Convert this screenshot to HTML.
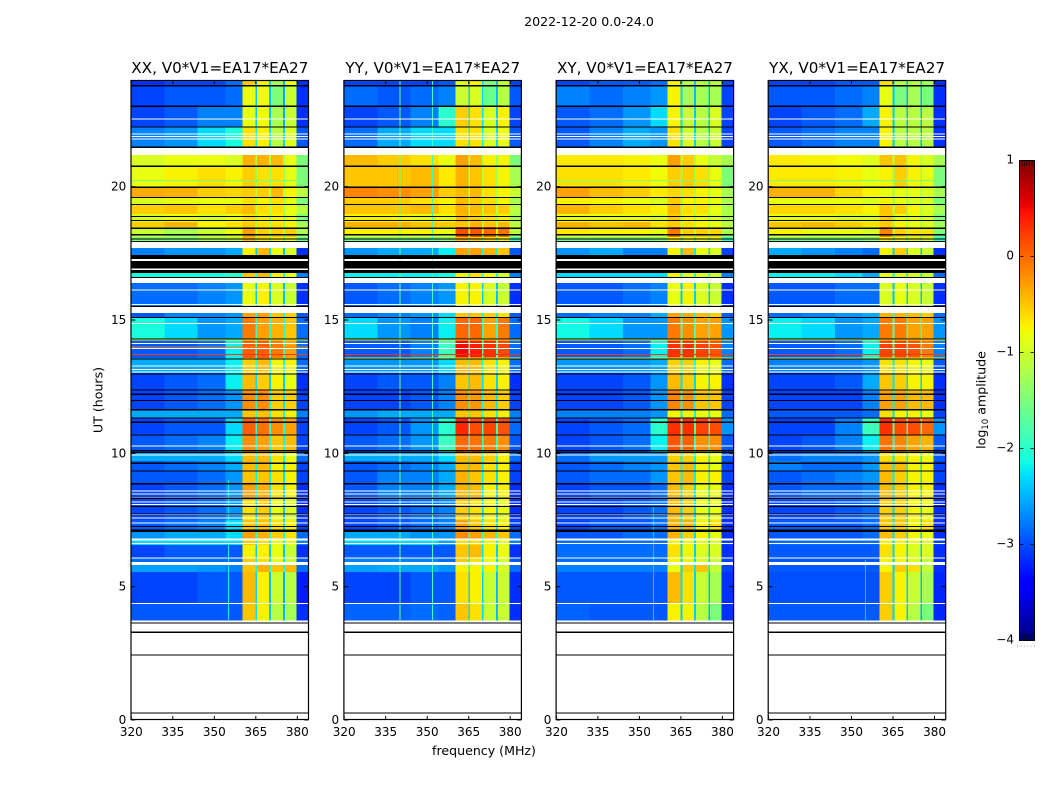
<!DOCTYPE html>
<html lang="en">
<head>
<meta charset="utf-8">
<title>2022-12-20 0.0-24.0 dynamic spectra</title>
<style>
html,body{margin:0;padding:0;background:#fff;width:1050px;height:800px;overflow:hidden}
svg{display:block}
text{font-family:"DejaVu Sans","Liberation Sans",sans-serif;fill:#000}
</style>
</head>
<body>
<svg id="figure" xmlns="http://www.w3.org/2000/svg" width="1050" height="800" viewBox="0 0 1050 800">
  <text x="589" y="26" font-size="12.6" text-anchor="middle">2022-12-20 0.0-24.0</text>
  <text x="484" y="755" font-size="12.6" text-anchor="middle">frequency (MHz)</text>
  <text x="0" y="0" font-size="12.6" text-anchor="middle" transform="translate(102.5,400) rotate(-90)">UT (hours)</text>
  <text x="0" y="0" font-size="12.6" text-anchor="middle" transform="translate(985.5,400) rotate(-90)">log<tspan font-size="8.6" dy="2.5">10</tspan><tspan dy="-2.5"> amplitude</tspan></text>
  <g id="panels"></g>
  <g id="colorbar"></g>
</svg>
<script>
// ---- data ----
const panelTitles = ["XX, V0*V1=EA17*EA27","YY, V0*V1=EA17*EA27","XY, V0*V1=EA17*EA27","YX, V0*V1=EA17*EA27"];
const xTickLabels = [320,335,350,365,380];
const yTickLabels = [0,5,10,15,20];
const colorTickLabels = [-4,-3,-2,-1,0,1];
// frequency zones (MHz) for each heatmap column; gaps between the four bands are separate
const zoneStarts = [320,332,344,354,360.2,365.5,370.4,375.5,379.7];
const zoneEnds   = [332,344,354,360.2,364.9,369.8,374.9,379.7,384];
const bandGapStarts = [364.9,369.8,374.9];
const bandGapEnds   = [365.5,370.4,375.5];
// UT spans (hours) of each time row
const rowTops    = [24,23.81,23.03,22.24,21.19,20.78,19.99,19.61,19.31,18.98,18.68,18.49,18.11,17.7,16.84,16.39,15.26,15.11,14.29,13.58,13.01,12.38,11.63,11.33,10.69,10.05,9.71,9.34,8.85,8.25,7.5,7.09,6.75,6.56,6.08,5.81,5.55,4.35];
const rowBottoms = [23.81,23.03,22.24,21.49,20.78,19.99,19.61,19.31,18.98,18.68,18.49,18.11,17.96,17.44,16.61,15.53,15.11,14.29,13.58,13.01,12.38,11.63,11.33,10.69,10.05,9.71,9.34,8.85,8.25,7.5,7.09,6.75,6.56,6.08,5.81,5.55,4.35,3.75];
// log10 amplitude per time row, one value per frequency zone
const valuesXX = [
[-3.0,-2.9,-2.9,-2.7,-0.7,-0.9,-1.4,-1.0,-3.0],[-2.9,-2.8,-2.8,-2.7,-1.0,-1.0,-1.5,-1.2,-3.0],[-2.9,-2.8,-2.6,-2.6,-1.0,-1.0,-1.4,-1.2,-3.0],[-2.6,-2.5,-2.3,-2.1,-0.8,-0.9,-1.3,-1.1,-2.8],
[-1.1,-1.0,-1.0,-1.1,-0.4,-0.4,-0.6,-1.0,-1.5],[-1.0,-0.9,-0.8,-0.9,-0.7,-0.8,-0.8,-1.0,-1.5],[-0.35,-0.55,-0.7,-0.75,-0.7,-0.7,-0.6,-0.9,-1.3],[-1.1,-1.0,-1.0,-1.0,-0.8,-0.9,-0.8,-1.0,-1.5],
[-0.7,-0.5,-0.8,-0.7,-0.6,-0.8,-0.8,-1.0,-1.3],[-1.1,-1.0,-1.1,-1.0,-0.8,-0.9,-0.9,-1.0,-1.5],[-0.7,-0.4,-0.9,-0.8,-0.7,-0.8,-0.8,-0.9,-1.4],[-1.2,-1.4,-1.2,-1.0,-0.3,-0.7,-0.7,-0.7,-1.4],
[-1.5,-1.5,-1.4,-1.3,-0.6,-0.8,-0.9,-1.0,-1.7],[-2.6,-2.5,-2.5,-2.4,-0.9,-0.6,-1.0,-1.1,-3.0],[-2.1,-2.1,-2.1,-2.0,-0.5,-0.6,-0.9,-1.0,-2.6],[-2.7,-2.7,-2.6,-2.5,-1.0,-0.9,-1.1,-1.2,-3.0],
[-2.8,-2.6,-2.6,-2.5,-0.3,-0.3,-0.5,-0.7,-2.8],[-2.1,-2.3,-2.5,-2.4,-0.1,-0.3,-0.4,-0.5,-2.7],[-2.8,-2.8,-2.7,-2.2,0.05,0.05,-0.1,-0.3,-2.7],[-2.4,-2.4,-2.4,-2.2,-0.7,-0.6,-0.9,-0.9,-2.7],
[-2.9,-2.8,-2.7,-2.2,-0.6,-0.7,-0.9,-1.0,-3.0],[-2.9,-2.8,-2.7,-2.5,-0.2,-0.2,-0.7,-0.7,-2.9],[-2.4,-2.4,-2.4,-2.4,-0.5,-0.5,-0.8,-0.9,-2.6],[-2.9,-2.8,-2.8,-2.3,0.05,-0.05,-0.2,-0.3,-2.9],
[-2.8,-2.7,-2.6,-2.2,-0.2,-0.3,-0.5,-0.6,-2.9],[-2.4,-2.4,-2.4,-2.3,-0.6,-0.6,-0.8,-1.0,-2.7],[-2.8,-2.7,-2.6,-2.4,-0.6,-0.6,-0.9,-0.9,-2.9],[-2.8,-2.8,-2.7,-2.5,-0.5,-0.5,-0.8,-0.9,-2.9],
[-2.9,-2.8,-2.7,-2.5,-0.3,-0.4,-0.8,-0.9,-3.0],[-2.9,-2.8,-2.7,-2.5,-0.8,-0.7,-1.0,-1.1,-3.0],[-2.8,-2.7,-2.6,-2.3,-0.5,-0.5,-0.8,-0.9,-2.9],[-2.5,-2.4,-2.4,-2.3,-0.3,-0.4,-0.7,-0.8,-2.7],
[-2.3,-2.3,-2.3,-2.3,-0.7,-0.8,-1.0,-1.0,-2.6],[-2.9,-2.8,-2.8,-2.8,-0.9,-0.9,-1.0,-1.2,-3.0],[-2.7,-2.7,-2.7,-2.7,-0.7,-0.8,-1.0,-1.2,-2.8],[-2.45,-2.45,-2.5,-2.6,-0.5,-0.4,-0.5,-0.6,-2.7],
[-2.9,-2.9,-2.8,-2.8,-0.6,-0.9,-1.2,-1.3,-3.1],[-2.8,-2.8,-2.8,-2.8,-0.5,-0.9,-1.3,-1.4,-3.0]];
const valuesYY = [
[-2.9,-2.9,-2.9,-2.8,-1.1,-0.9,-1.5,-1.2,-2.9],[-2.7,-2.8,-2.7,-2.6,-1.2,-1.1,-1.6,-1.3,-2.8],[-2.9,-2.8,-2.6,-2.0,-0.7,-0.8,-1.1,-0.9,-2.9],[-2.7,-2.4,-2.3,-2.3,-0.8,-0.8,-1.1,-1.0,-2.8],
[-0.6,-0.7,-0.8,-1.0,-0.3,-0.6,-0.9,-0.9,-1.5],[-0.5,-0.5,-0.6,-0.85,-0.4,-0.5,-0.8,-0.9,-1.4],[-0.15,-0.2,-0.3,-0.7,-0.6,-0.6,-0.8,-0.9,-1.2],[-0.7,-0.7,-0.8,-0.9,-0.6,-0.7,-0.8,-0.9,-1.4],
[-0.5,-0.5,-0.6,-0.8,-0.4,-0.6,-0.5,-0.7,-1.3],[-0.9,-0.9,-1.0,-1.0,-0.6,-0.7,-0.8,-0.9,-1.4],[-0.4,-0.4,-0.5,-0.7,-0.5,-0.4,-0.5,-0.6,-1.3],[-0.9,-0.9,-0.9,-1.0,0.15,0.1,0.0,-0.05,-1.3],
[-1.6,-1.6,-1.6,-1.5,-0.6,-0.7,-0.8,-0.9,-2.0],[-2.5,-2.4,-2.4,-2.2,-0.3,-0.3,-0.4,-0.5,-2.8],[-2.2,-2.2,-2.2,-2.1,-0.9,-0.8,-1.0,-1.1,-2.6],[-2.8,-2.7,-2.6,-2.5,-0.9,-0.9,-1.1,-1.2,-3.0],
[-2.7,-2.6,-2.5,-2.3,-0.5,-0.5,-0.7,-0.8,-2.8],[-2.3,-2.5,-2.6,-2.2,0.0,0.0,-0.3,-0.1,-2.7],[-2.8,-2.8,-2.6,-1.9,0.5,0.4,0.3,0.15,-2.7],[-2.5,-2.5,-2.5,-2.3,-0.6,-0.6,-0.8,-0.9,-2.7],
[-2.9,-2.8,-2.8,-2.6,-0.5,-0.6,-0.8,-0.9,-3.0],[-2.9,-2.9,-2.8,-2.6,-0.2,-0.25,-0.6,-0.7,-2.9],[-2.5,-2.4,-2.4,-2.4,-0.5,-0.5,-0.8,-0.9,-2.6],[-2.9,-2.8,-2.5,-2.0,0.35,0.15,0.2,0.1,-2.7],
[-2.8,-2.7,-2.5,-1.9,0.0,-0.05,-0.1,-0.2,-2.8],[-2.4,-2.4,-2.4,-2.3,-0.6,-0.6,-0.7,-0.9,-2.7],[-2.8,-2.7,-2.6,-2.4,-0.6,-0.6,-0.8,-0.9,-2.9],[-2.8,-2.6,-2.6,-2.4,-0.4,-0.5,-0.8,-0.9,-2.9],
[-2.8,-2.6,-2.6,-2.4,-0.4,-0.6,-0.9,-0.9,-3.0],[-2.9,-2.8,-2.7,-2.6,-0.7,-0.8,-0.9,-1.0,-3.0],[-2.9,-2.8,-2.7,-2.6,-0.3,-0.5,-0.8,-0.9,-2.9],[-2.4,-2.4,-2.5,-2.5,-0.2,-0.3,-0.4,-0.5,-2.7],
[-2.3,-2.3,-2.3,-2.4,-0.8,-0.8,-0.9,-1.0,-2.6],[-2.8,-2.8,-2.8,-2.8,-0.5,-0.6,-0.9,-1.0,-3.0],[-2.6,-2.6,-2.6,-2.7,-0.7,-0.8,-1.0,-1.1,-2.8],[-2.45,-2.4,-2.4,-2.5,-0.9,-0.9,-0.9,-1.1,-2.7],
[-2.9,-2.9,-2.8,-2.8,-0.8,-0.9,-1.2,-1.2,-3.0],[-2.75,-2.75,-2.7,-2.75,-0.5,-0.8,-1.2,-1.2,-3.0]];
const valuesXY = [
[-2.9,-2.8,-2.8,-2.7,-0.9,-1.3,-1.3,-1.3,-2.9],[-2.6,-2.7,-2.6,-2.5,-0.9,-1.4,-1.4,-1.4,-2.9],[-2.8,-2.7,-2.5,-2.3,-0.9,-1.2,-1.3,-1.1,-2.9],[-2.8,-2.6,-2.4,-2.5,-0.8,-1.1,-1.3,-1.2,-2.9],
[-0.85,-0.85,-0.9,-1.0,-0.3,-0.7,-1.0,-1.2,-1.4],[-0.8,-0.8,-0.85,-0.95,-0.7,-0.7,-0.8,-1.0,-1.5],[-0.3,-0.45,-0.7,-0.85,-0.75,-0.8,-0.9,-1.0,-1.4],[-0.9,-0.9,-1.0,-1.1,-0.7,-0.9,-0.9,-1.0,-1.4],
[-0.55,-0.7,-0.8,-0.9,-0.6,-0.8,-0.8,-1.0,-1.4],[-1.0,-1.0,-1.0,-1.1,-0.7,-0.9,-1.0,-1.1,-1.4],[-0.4,-0.5,-0.6,-0.8,-0.7,-0.8,-0.9,-1.0,-1.3],[-0.85,-0.9,-0.9,-1.0,-0.1,-0.7,-0.7,-0.75,-1.4],
[-1.6,-1.6,-1.6,-1.5,-0.9,-1.0,-1.0,-1.1,-2.0],[-2.5,-2.4,-2.6,-2.6,-0.9,-0.6,-1.0,-1.1,-2.9],[-2.3,-2.3,-2.3,-2.3,-0.9,-1.1,-1.1,-1.2,-2.6],[-2.8,-2.8,-2.7,-2.6,-1.0,-0.9,-1.1,-1.2,-3.0],
[-2.7,-2.6,-2.6,-2.4,-0.3,-0.35,-0.6,-0.7,-2.8],[-2.15,-2.3,-2.5,-2.5,-0.1,-0.2,-0.3,-0.3,-2.5],[-2.8,-2.8,-2.7,-2.2,0.3,0.3,0.2,0.1,-2.6],[-2.5,-2.5,-2.5,-2.4,-0.7,-0.7,-0.9,-1.0,-2.7],
[-2.9,-2.9,-2.8,-2.5,-0.6,-0.7,-0.9,-0.9,-3.0],[-2.9,-2.9,-2.8,-2.5,-0.15,-0.2,-0.5,-0.5,-2.9],[-2.6,-2.6,-2.6,-2.5,-0.9,-0.9,-1.0,-1.0,-2.7],[-2.9,-2.8,-2.7,-2.0,0.3,0.3,0.2,0.15,-2.5],
[-2.9,-2.8,-2.7,-2.2,0.1,0.05,-0.2,-0.2,-2.8],[-2.7,-2.5,-2.5,-2.5,-0.7,-0.7,-0.9,-1.0,-2.8],[-2.8,-2.7,-2.6,-2.5,-0.5,-0.6,-0.9,-1.0,-2.9],[-2.8,-2.7,-2.7,-2.5,-0.5,-0.6,-0.9,-0.9,-2.9],
[-2.9,-2.8,-2.8,-2.7,-0.6,-0.7,-1.0,-1.0,-3.0],[-2.9,-2.9,-2.8,-2.7,-0.6,-0.7,-1.0,-1.0,-3.0],[-2.9,-2.8,-2.8,-2.7,-0.4,-0.4,-0.9,-0.8,-3.0],[-2.8,-2.8,-2.7,-2.7,-0.4,-0.7,-0.9,-1.0,-3.0],
[-2.7,-2.7,-2.7,-2.7,-0.9,-0.9,-1.0,-1.1,-2.9],[-2.7,-2.7,-2.7,-2.7,-0.8,-0.9,-1.1,-1.1,-3.0],[-2.7,-2.7,-2.7,-2.7,-0.9,-0.9,-1.1,-1.2,-2.9],[-2.6,-2.6,-2.6,-2.6,-1.0,-0.7,-0.5,-1.2,-2.9],
[-2.8,-2.8,-2.8,-2.8,-0.6,-0.8,-1.2,-1.4,-3.0],[-2.75,-2.8,-2.8,-2.8,-0.9,-0.9,-1.3,-1.5,-3.0]];
const valuesYX = [
[-2.9,-2.9,-2.8,-2.8,-0.8,-1.3,-1.3,-1.4,-3.0],[-2.8,-2.8,-2.7,-2.6,-1.0,-1.5,-1.4,-1.5,-3.0],[-2.9,-2.8,-2.7,-2.4,-0.9,-1.3,-1.3,-1.3,-3.0],[-2.8,-2.7,-2.6,-2.6,-0.9,-1.3,-1.3,-1.3,-3.0],
[-0.85,-0.9,-0.95,-1.05,-0.5,-0.5,-0.9,-1.1,-1.4],[-0.85,-0.85,-0.9,-1.0,-0.9,-0.7,-0.9,-1.0,-1.5],[-0.55,-0.55,-0.75,-0.9,-1.0,-1.0,-1.0,-1.1,-1.4],[-1.0,-1.0,-1.0,-1.1,-0.9,-1.0,-1.1,-1.1,-1.5],
[-0.75,-0.75,-0.8,-0.9,-0.5,-0.7,-0.9,-1.1,-1.4],[-1.0,-1.0,-1.1,-1.1,-0.7,-1.0,-1.0,-1.1,-1.5],[-0.5,-0.6,-0.7,-0.8,-0.7,-0.9,-1.0,-1.1,-1.4],[-0.9,-1.0,-1.0,-1.1,-0.15,-0.7,-0.8,-0.8,-1.5],
[-1.6,-1.6,-1.6,-1.5,-0.9,-1.0,-1.1,-1.1,-2.0],[-2.4,-2.5,-2.6,-2.7,-0.9,-0.7,-1.1,-1.2,-3.0],[-2.2,-2.2,-2.3,-2.4,-1.0,-1.1,-1.1,-1.2,-2.7],[-2.8,-2.8,-2.7,-2.7,-1.1,-1.0,-1.1,-1.2,-3.0],
[-2.7,-2.6,-2.5,-2.4,-0.4,-0.4,-0.6,-0.7,-2.7],[-2.2,-2.3,-2.5,-2.4,-0.1,-0.1,-0.3,-0.3,-2.5],[-2.8,-2.8,-2.7,-2.2,0.2,0.2,0.1,-0.1,-2.6],[-2.6,-2.6,-2.6,-2.5,-0.8,-0.8,-0.9,-1.0,-2.8],
[-2.9,-2.9,-2.8,-2.4,-0.5,-0.7,-0.9,-0.9,-3.0],[-2.9,-2.9,-2.9,-2.6,-0.3,-0.3,-0.6,-0.6,-3.0],[-2.8,-2.8,-2.8,-2.7,-0.8,-0.9,-0.9,-1.0,-2.9],[-2.9,-2.9,-2.6,-1.9,0.3,0.15,0.15,0.0,-2.5],
[-2.9,-2.8,-2.6,-2.2,-0.05,-0.15,-0.3,-0.4,-2.8],[-2.7,-2.6,-2.6,-2.5,-0.8,-0.8,-0.9,-1.0,-2.8],[-2.6,-2.7,-2.7,-2.5,-0.6,-0.6,-0.9,-0.9,-2.9],[-2.8,-2.7,-2.6,-2.5,-0.6,-0.7,-0.9,-0.9,-2.9],
[-2.8,-2.7,-2.7,-2.6,-0.6,-0.7,-0.9,-0.9,-3.0],[-2.9,-2.9,-2.8,-2.7,-0.7,-0.7,-0.9,-1.0,-3.0],[-2.8,-2.8,-2.8,-2.7,-0.5,-0.5,-0.9,-0.8,-3.0],[-2.8,-2.8,-2.8,-2.7,-0.6,-0.7,-0.9,-1.0,-3.0],
[-2.7,-2.7,-2.7,-2.7,-0.9,-0.9,-1.0,-1.1,-2.9],[-2.8,-2.8,-2.8,-2.8,-0.8,-0.9,-1.1,-1.1,-3.0],[-2.8,-2.8,-2.8,-2.8,-0.9,-0.9,-1.1,-1.2,-3.0],[-2.8,-2.8,-2.8,-2.8,-0.9,-0.7,-0.8,-1.2,-3.0],
[-2.85,-2.85,-2.85,-2.85,-0.7,-0.9,-1.2,-1.4,-3.05],[-2.8,-2.8,-2.8,-2.8,-0.7,-0.9,-1.3,-1.5,-3.05]];
// missing-data stripes and flagged integrations (hours)
const whiteBandTops    = [21.49,17.96,16.61,15.53,6.81,5.93];
const whiteBandBottoms = [21.19,17.7,16.39,15.26,6.73,5.81];
const whiteLineHours = [22.56,22.0,21.9,21.81,17.25,16.91,16.15,15.6,14.89,14.14,13.95,13.29,13.17,13.06,10.29,9.96,8.6,8.5,8.37,8.19,8.1,7.73,7.6,7.41,6.63,6.1,4.38];
const blackBandTops    = [17.44,17.22,16.88];
const blackBandBottoms = [17.28,16.94,16.77];
const blackLineHours = [23.81,23.04,22.26,21.5,20.79,20.0,19.62,19.35,18.9,18.75,18.46,18.22,18.06,17.97,16.62,15.53,15.12,14.31,13.56,13.0,12.4,12.24,12.0,11.66,11.35,11.19,10.71,10.13,10.06,9.65,9.36,8.88,8.34,8.03,7.75,7.28,7.14,7.1,3.66,3.31,2.46,0.29];
// bright single-integration streaks: hour, log amplitude (one list per panel)
const streakHoursByPanel  = [[14.27,14.0,13.72,20.25],[14.27,13.72,13.6],[14.27,13.72,13.6,20.25],[14.27,13.72,13.6,20.25]];
const streakValuesByPanel = [[-0.9,-0.1,0.25,-1.5],[-0.7,0.3,-0.9],[-0.7,0.25,-0.9,-1.4],[-0.7,0.25,-0.9,-1.5]];
// narrow RFI channels: MHz, UT top, UT bottom, log amplitude (one list per panel)
const rfiFreqsByPanel   = [[354.9],[339.9,351.8],[354.9],[354.9]];
const rfiTopsByPanel    = [[9],[24,24],[8],[6]];
const rfiBottomsByPanel = [[3.75],[3.75,3.75],[3.75],[3.75]];
const rfiValuesByPanel  = [[-2.2],[-1.6,-1.9],[-2.4],[-2.4]];
const valuesByPanel = [valuesXX,valuesYY,valuesXY,valuesYX];

// ---- axis functions and layout ----
const NS = "http://www.w3.org/2000/svg";
const panelLefts = [131.3,344.2,556.4,768.5];
const pxPerMHz = 2.767;
const pxPerHour = 640/24;
const plotTop = 80, plotBottom = 720, plotWidth = 177.1;
const gapMix = 0.3;
const xScale = (f, left) => left + (f - 320) * pxPerMHz;
const yScale = h => plotBottom - h * pxPerHour;
const colorY = v => 640 - (v + 4) * 96;
function ramp(x, pts){
  for (let i = 1; i < pts.length; i++){
    if (x <= pts[i][0]) return pts[i-1][1] + (pts[i][1]-pts[i-1][1]) * (x-pts[i-1][0])/(pts[i][0]-pts[i-1][0]);
  }
  return pts[pts.length-1][1];
}
function jet(v){
  const x = Math.max(0, Math.min(1, (v + 4) / 5));
  const r = ramp(x, [[0,0],[0.35,0],[0.66,1],[0.89,1],[1,0.5]]);
  const g = ramp(x, [[0,0],[0.125,0],[0.375,1],[0.64,1],[0.91,0],[1,0]]);
  const b = ramp(x, [[0,0.5],[0.11,1],[0.34,1],[0.65,0],[1,0]]);
  return "rgb(" + Math.round(r*255) + "," + Math.round(g*255) + "," + Math.round(b*255) + ")";
}
// display calibration: grainy blue floor reads deeper, saturated yellow reads warmer
function cellColor(v){
  if (v < -2.3) return jet(v - 0.14);
  if (v > -1.45 && v < -0.5) return jet(v + 0.16);
  return jet(v);
}
function shape(parent, tag, attrs){
  const el = document.createElementNS(NS, tag);
  for (const k in attrs) el.setAttribute(k, attrs[k]);
  parent.appendChild(el);
  return el;
}
const panelsRoot = document.getElementById("panels");

panelTitles.forEach((title, p) => {
  const L = panelLefts[p];
  const vals = valuesByPanel[p];
  const g = shape(panelsRoot, "g", {});
  
  
  const t = shape(g, "text", {x: L + plotWidth/2, y: 73, "font-size": 15.2, "text-anchor": "middle"});
  
  
  t.textContent = title;

  const cells = shape(g, "g", {"shape-rendering": "crispEdges"});
  
  

  rowTops.forEach((top, r) => {
    const y0 = yScale(top), y1 = yScale(rowBottoms[r]);
    vals[r].forEach((v, z) => {
      const x0 = xScale(zoneStarts[z], L), x1 = xScale(zoneEnds[z], L);
      const cell = shape(cells, "rect", {x: x0, y: y0, width: x1 - x0 + 0.5, height: y1 - y0 + 0.3, fill: cellColor(v)});
      
      
    });
    bandGapStarts.forEach((f, i) => {
      const gapValue = (1 - gapMix) * vals[r][8] + gapMix * vals[r][4 + i];
      const x0 = xScale(f, L), x1 = xScale(bandGapEnds[i], L);
      const gapCell = shape(cells, "rect", {x: x0, y: y0, width: x1 - x0, height: y1 - y0 + 0.3, fill: jet(gapValue)});
      
      
    });
  });

  rfiFreqsByPanel[p].forEach((f, i) => {
    const y0 = yScale(rfiTopsByPanel[p][i]), y1 = yScale(rfiBottomsByPanel[p][i]);
    const line = shape(cells, "rect", {x: xScale(f, L), y: y0, width: 1, height: y1 - y0, fill: jet(rfiValuesByPanel[p][i])});
    
    
  });
  streakHoursByPanel[p].forEach((h, i) => {
    const streak = shape(cells, "rect", {x: L, y: yScale(h), width: plotWidth, height: 1, fill: jet(streakValuesByPanel[p][i])});
    
    
  });
  whiteBandTops.forEach((h, i) => {
    const y0 = yScale(h), y1 = yScale(whiteBandBottoms[i]);
    const band = shape(cells, "rect", {x: L, y: y0, width: plotWidth, height: y1 - y0, fill: "#fff"});
    
    
  });
  whiteLineHours.forEach(h => {
    const line = shape(cells, "rect", {x: L, y: yScale(h), width: plotWidth, height: 1, fill: "#fff"});
    
    
  });
  blackBandTops.forEach((h, i) => {
    const y0 = yScale(h), y1 = yScale(blackBandBottoms[i]);
    const band = shape(cells, "rect", {x: L, y: y0, width: plotWidth, height: y1 - y0, fill: "#000"});
    
    
  });
  blackLineHours.forEach(h => {
    const line = shape(cells, "rect", {x: L, y: yScale(h), width: plotWidth, height: 1.2, fill: "#000"});
    
    
  });

  const frame = shape(g, "rect", {x: L - 0.3, y: 80.5, width: plotWidth + 0.4, height: 639, fill: "none", stroke: "#000", "stroke-width": 1.2});
  
  

  xTickLabels.forEach(f => {
    const x = xScale(f, L);
    const tickB = shape(g, "line", {x1: x, x2: x, y1: 720, y2: 716, stroke: "#000", "stroke-width": 1});
    
    
    const tickT = shape(g, "line", {x1: x, x2: x, y1: 80, y2: 84, stroke: "#000", "stroke-width": 1});
    
    
    const lab = shape(g, "text", {x: x, y: 736, "font-size": 12, "text-anchor": "middle"});
    
    
    lab.textContent = f;
  });
  yTickLabels.forEach(h => {
    const y = yScale(h);
    const tickL = shape(g, "line", {x1: L, x2: L + 4, y1: y, y2: y, stroke: "#000", "stroke-width": 1});
    
    
    const tickR = shape(g, "line", {x1: L + plotWidth, x2: L + plotWidth - 4, y1: y, y2: y, stroke: "#000", "stroke-width": 1});
    
    
    const lab = shape(g, "text", {x: L - 5, y: y + 4, "font-size": 12, "text-anchor": "end"});
    
    
    lab.textContent = h;
  });
});

// ---- colorbar ----
const cbRoot = document.getElementById("colorbar");
const cbLeft = 1019.5, cbWidth = 15;
const cbLevels = 240;
for (let i = 0; i < cbLevels; i++){
  const v = -4 + 5 * (i + 0.5) / cbLevels;
  const seg = shape(cbRoot, "rect", {x: cbLeft, y: colorY(-4 + 5 * (i + 1) / cbLevels), width: cbWidth, height: 480 / cbLevels + 0.5, fill: jet(v), "shape-rendering": "crispEdges"});
  
  
}
const cbFrame = shape(cbRoot, "rect", {x: cbLeft, y: 160.5, width: cbWidth, height: 480, fill: "none", stroke: "#000", "stroke-width": 1});


colorTickLabels.forEach(v => {
  const y = colorY(v) + 0.5;
  const tickL = shape(cbRoot, "line", {x1: cbLeft, x2: cbLeft + 4, y1: y, y2: y, stroke: "#000", "stroke-width": 0.8});
  
  
  const tickR = shape(cbRoot, "line", {x1: cbLeft + cbWidth, x2: cbLeft + cbWidth - 4, y1: y, y2: y, stroke: "#000", "stroke-width": 0.8});
  
  
  const lab = shape(cbRoot, "text", {x: 1014, y: y + 3, "font-size": 12, "text-anchor": "end"});
  
  
  lab.textContent = v < 0 ? "\u2212" + Math.abs(v) : String(v);
});
for (let k = 1; k <= 5; k++){
  const x = cbLeft + k * 2.5;
  const top = shape(cbRoot, "line", {x1: x, x2: x, y1: 161, y2: 166, stroke: "#000", "stroke-width": 0.7});
  
  
  const bot = shape(cbRoot, "line", {x1: x, x2: x, y1: 634, y2: 640, stroke: "#000", "stroke-width": 0.7});
  
  
}
const cbDots = shape(cbRoot, "line", {x1: 1017, x2: 1035, y1: 646, y2: 646, stroke: "#999", "stroke-width": 1, "stroke-dasharray": "1 2.4"});


</script>
</body>
</html>
